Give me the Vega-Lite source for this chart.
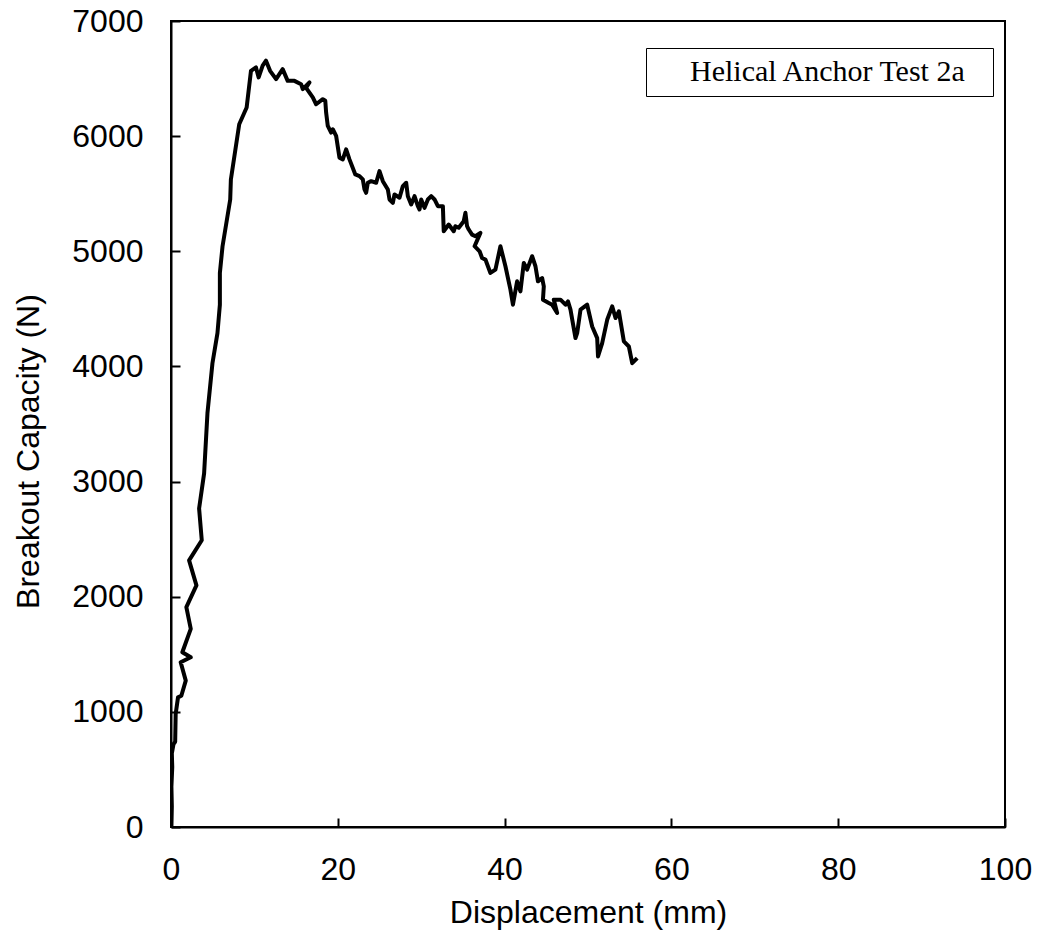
{
  "$schema": "https://vega.github.io/schema/vega-lite/v6.json",
  "width": 834,
  "height": 806,
  "autosize": {"type": "none"},
  "padding": {"left": 171, "top": 21, "right": 34, "bottom": 111},
  "background": "white",
  "config": {
    "view": {"stroke": "black", "strokeWidth": 2},
    "axis": {
      "labelFont": "Liberation Sans",
      "titleFont": "Liberation Sans",
      "labelFontSize": 32,
      "titleFontSize": 32,
      "titleFontWeight": "normal",
      "labelColor": "black",
      "titleColor": "black",
      "domainColor": "black",
      "domainWidth": 2,
      "tickColor": "black",
      "tickWidth": 2,
      "tickSize": -9,
      "grid": false
    }
  },
  "data": {
    "values": [
      {"i":1,"x":0.05,"y":0},{"i":2,"x":0.1,"y":180},{"i":3,"x":0.05,"y":350},{"i":4,"x":0.15,"y":520},{"i":5,"x":0.1,"y":640},{"i":6,"x":0.3,"y":720},{"i":7,"x":0.5,"y":740},{"i":8,"x":0.56,"y":981},{"i":9,"x":0.84,"y":1126},{"i":10,"x":1.24,"y":1140},
      {"i":11,"x":1.77,"y":1271},{"i":12,"x":1.16,"y":1431},{"i":13,"x":2.37,"y":1474},{"i":14,"x":1.36,"y":1518},{"i":15,"x":2.37,"y":1721},{"i":16,"x":1.84,"y":1909},{"i":17,"x":3.05,"y":2098},{"i":18,"x":2.17,"y":2316},{"i":19,"x":3.69,"y":2490},{"i":20,"x":3.37,"y":2766},
      {"i":21,"x":3.97,"y":3071},{"i":22,"x":4.37,"y":3593},{"i":23,"x":4.97,"y":4028},{"i":24,"x":5.57,"y":4289},{"i":25,"x":5.86,"y":4536},{"i":26,"x":5.86,"y":4812},{"i":27,"x":6.18,"y":5044},{"i":28,"x":7.1,"y":5450},{"i":29,"x":7.18,"y":5624},{"i":30,"x":8.18,"y":6103},
      {"i":31,"x":9.07,"y":6249},{"i":32,"x":9.59,"y":6567},{"i":33,"x":10.19,"y":6597},{"i":34,"x":10.51,"y":6510},{"i":35,"x":10.99,"y":6612},{"i":36,"x":11.39,"y":6655},{"i":37,"x":11.88,"y":6567},{"i":38,"x":12.6,"y":6495},{"i":39,"x":13.39,"y":6582},{"i":40,"x":13.99,"y":6480},
      {"i":41,"x":14.8,"y":6480},{"i":42,"x":15.6,"y":6451},{"i":43,"x":15.8,"y":6408},{"i":44,"x":16.6,"y":6466},{"i":45,"x":16.2,"y":6420},{"i":46,"x":17.0,"y":6336},{"i":47,"x":17.4,"y":6277},{"i":48,"x":18.2,"y":6321},{"i":49,"x":18.5,"y":6307},{"i":50,"x":18.6,"y":6205},
      {"i":51,"x":18.8,"y":6089},{"i":52,"x":19.2,"y":6031},{"i":53,"x":19.4,"y":6060},{"i":54,"x":19.8,"y":6002},{"i":55,"x":20.2,"y":5813},{"i":56,"x":20.6,"y":5798},{"i":57,"x":21.0,"y":5885},{"i":58,"x":21.4,"y":5798},{"i":59,"x":22.1,"y":5667},{"i":60,"x":22.6,"y":5653},
      {"i":61,"x":23.0,"y":5624},{"i":62,"x":23.2,"y":5537},{"i":63,"x":23.4,"y":5508},{"i":64,"x":23.6,"y":5595},{"i":65,"x":24.0,"y":5609},{"i":66,"x":24.6,"y":5595},{"i":67,"x":25.0,"y":5696},{"i":68,"x":25.4,"y":5609},{"i":69,"x":26.0,"y":5537},{"i":70,"x":26.2,"y":5450},
      {"i":71,"x":26.6,"y":5421},{"i":72,"x":26.8,"y":5494},{"i":73,"x":27.4,"y":5465},{"i":74,"x":27.8,"y":5566},{"i":75,"x":28.2,"y":5595},{"i":76,"x":28.4,"y":5479},{"i":77,"x":28.8,"y":5407},{"i":78,"x":29.2,"y":5479},{"i":79,"x":29.6,"y":5392},{"i":80,"x":29.8,"y":5363},
      {"i":81,"x":30.0,"y":5450},{"i":82,"x":30.4,"y":5377},{"i":83,"x":30.8,"y":5450},{"i":84,"x":31.2,"y":5479},{"i":85,"x":31.6,"y":5450},{"i":86,"x":32.0,"y":5392},{"i":87,"x":32.6,"y":5392},{"i":88,"x":32.7,"y":5174},{"i":89,"x":33.3,"y":5232},{"i":90,"x":33.9,"y":5174},
      {"i":91,"x":34.1,"y":5218},{"i":92,"x":34.5,"y":5204},{"i":93,"x":35.1,"y":5261},{"i":94,"x":35.3,"y":5334},{"i":95,"x":35.5,"y":5218},{"i":96,"x":35.7,"y":5189},{"i":97,"x":36.1,"y":5145},{"i":98,"x":36.5,"y":5131},{"i":99,"x":37.1,"y":5160},{"i":100,"x":36.4,"y":5044},
      {"i":101,"x":37.0,"y":5000},{"i":102,"x":37.3,"y":4942},{"i":103,"x":37.7,"y":4928},{"i":104,"x":38.3,"y":4812},{"i":105,"x":38.9,"y":4841},{"i":106,"x":39.5,"y":5044},{"i":107,"x":40.1,"y":4870},{"i":108,"x":40.7,"y":4667},{"i":109,"x":41.0,"y":4536},{"i":110,"x":41.5,"y":4739},
      {"i":111,"x":41.9,"y":4652},{"i":112,"x":42.3,"y":4899},{"i":113,"x":42.7,"y":4841},{"i":114,"x":43.3,"y":4957},{"i":115,"x":43.7,"y":4870},{"i":116,"x":44.0,"y":4739},{"i":117,"x":44.5,"y":4768},{"i":118,"x":44.7,"y":4696},{"i":119,"x":44.6,"y":4580},{"i":120,"x":45.3,"y":4551},
      {"i":121,"x":45.7,"y":4536},{"i":122,"x":46.3,"y":4464},{"i":123,"x":45.9,"y":4580},{"i":124,"x":46.7,"y":4580},{"i":125,"x":47.3,"y":4536},{"i":126,"x":47.6,"y":4565},{"i":127,"x":47.9,"y":4493},{"i":128,"x":48.5,"y":4246},{"i":129,"x":48.7,"y":4289},{"i":130,"x":49.1,"y":4493},
      {"i":131,"x":49.9,"y":4536},{"i":132,"x":50.5,"y":4347},{"i":133,"x":51.1,"y":4246},{"i":134,"x":51.2,"y":4086},{"i":135,"x":51.7,"y":4202},{"i":136,"x":52.3,"y":4405},{"i":137,"x":52.9,"y":4522},{"i":138,"x":53.3,"y":4420},{"i":139,"x":53.7,"y":4478},{"i":140,"x":54.3,"y":4217},
      {"i":141,"x":54.9,"y":4173},{"i":142,"x":55.3,"y":4028},{"i":143,"x":55.9,"y":4072}
    ]
  },
  "mark": {"type": "line", "strokeWidth": 4, "strokeJoin": "round", "clip": true},
  "encoding": {
    "x": {
      "field": "x", "type": "quantitative",
      "scale": {"domain": [0, 100], "nice": false, "zero": true},
      "axis": {"title": "Displacement (mm)", "values": [0, 20, 40, 60, 80, 100], "labelPadding": 36, "titlePadding": 12, "labelFlush": false}
    },
    "y": {
      "field": "y", "type": "quantitative",
      "scale": {"domain": [0, 7000], "nice": false},
      "axis": {"title": "Breakout Capacity (N)", "format": "d", "values": [0, 1000, 2000, 3000, 4000, 5000, 6000, 7000], "labelPadding": 37, "titleX": -126, "titleY": 430, "labelFlush": false}
    },
    "order": {"field": "i", "type": "quantitative"},
    "color": {
      "datum": "Helical Anchor Test 2a",
      "scale": {"range": ["black"]},
      "legend": {
        "title": " ",
        "titleOrient": "right",
        "titleFontSize": 1,
        "titlePadding": 17,
        "orient": "none",
        "legendX": 475,
        "legendY": 27,
        "strokeColor": "black",
        "fillColor": "white",
        "padding": 9,
        "symbolSize": 36,
        "symbolType": "square",
        "symbolStrokeWidth": 0,
        "symbolOpacity": 0,
        "labelOffset": 5,
        "labelFont": "Liberation Serif",
        "labelFontSize": 30,
        "labelColor": "black",
        "labelLimit": 0
      }
    }
  }
}
